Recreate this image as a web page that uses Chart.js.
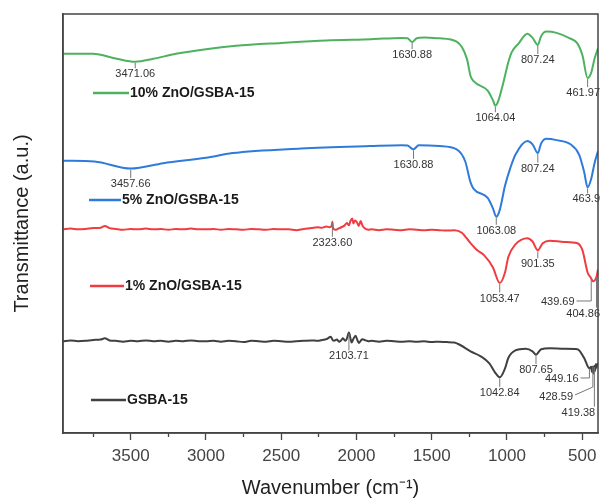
<!DOCTYPE html>
<html>
<head>
<meta charset="utf-8">
<script src="https://cdn.jsdelivr.net/npm/chart.js@4.4.1/dist/chart.umd.min.js"></script>
<style>
  html, body { margin: 0; padding: 0; background: #fff; }
  canvas { display: block; }
</style>
</head>
<body>
<canvas id="ftirChart" width="600" height="501"></canvas>
<script>
// series names (as in the inline legend)
const seriesNames = ["10% ZnO/GSBA-15", "5% ZnO/GSBA-15", "1% ZnO/GSBA-15", "GSBA-15"];

// 10% ZnO/GSBA-15 : wavenumber (cm-1) / transmittance (a.u., stacked)
const wn10 = [3950, 3750, 3600, 3470, 3350, 3200, 3000, 2800, 2500, 2200, 1900, 1700, 1660, 1630, 1600, 1550, 1450, 1334, 1266, 1242, 1220, 1128, 1093, 1077, 1060, 1025, 991, 968, 922, 864, 830, 795, 773, 738, 670, 578, 532, 498, 464, 440, 418, 395];
const t10 = [90.5, 90.5, 89.4, 88.6, 89.3, 90.5, 91.6, 92.4, 93.1, 93.7, 94.0, 94.3, 94.2, 93.3, 94.2, 94.4, 94.2, 93.4, 89.3, 85.2, 83.9, 81.7, 79.4, 78.1, 79.0, 83.5, 88.5, 90.9, 93.0, 95.3, 94.3, 92.6, 94.7, 95.8, 95.5, 94.1, 93.0, 90.1, 84.7, 86.0, 89.3, 91.8];

// 5% ZnO/GSBA-15
const wn5 = [3950, 3741, 3500, 3283, 3000, 2825, 2368, 1907, 1701, 1660, 1621, 1586, 1450, 1334, 1277, 1242, 1220, 1128, 1093, 1071, 1048, 1013, 979, 944, 864, 830, 795, 773, 738, 670, 578, 520, 487, 464, 440, 418, 395];
const t5 = [65.0, 64.8, 63.1, 64.4, 65.7, 66.8, 67.9, 68.5, 68.7, 68.6, 67.7, 68.7, 68.5, 67.7, 64.8, 59.8, 58.2, 56.1, 53.6, 51.6, 53.2, 59.0, 63.1, 66.4, 69.7, 68.9, 66.8, 69.1, 70.2, 69.9, 68.9, 66.4, 62.3, 58.6, 60.7, 64.4, 67.3];

// 1% ZnO/GSBA-15
const wn1 = [3950, 3900, 3850, 3800, 3750, 3700, 3672, 3640, 3600, 3550, 3500, 3450, 3400, 3350, 3300, 3250, 3200, 3150, 3100, 3050, 3000, 2950, 2900, 2850, 2800, 2750, 2700, 2650, 2600, 2550, 2500, 2450, 2400, 2350, 2300, 2260, 2230, 2200, 2180, 2165, 2160, 2155, 2140, 2120, 2100, 2080, 2063, 2050, 2040, 2028, 2020, 2010, 1997, 1985, 1972, 1960, 1950, 1939, 1920, 1900, 1850, 1800, 1750, 1700, 1650, 1600, 1550, 1500, 1450, 1400, 1350, 1300, 1242, 1197, 1151, 1093, 1048, 1013, 991, 944, 864, 830, 795, 762, 715, 620, 532, 498, 464, 440, 429, 405, 395];
const t1 = [48.6, 48.8, 48.6, 48.7, 48.9, 49.0, 49.4, 48.9, 48.7, 48.5, 48.7, 48.6, 48.8, 48.6, 48.7, 48.5, 48.7, 48.6, 48.8, 48.6, 48.6, 48.7, 48.5, 48.7, 48.6, 48.5, 48.7, 48.6, 48.5, 48.7, 48.6, 48.6, 48.4, 48.7, 48.9, 49.1, 49.0, 49.3, 49.1, 49.4, 50.4, 48.9, 48.5, 48.8, 49.1, 49.5, 50.1, 49.6, 50.6, 51.2, 50.0, 50.7, 50.3, 49.4, 50.6, 49.5, 49.0, 48.7, 48.5, 48.6, 48.4, 48.6, 48.5, 48.4, 48.6, 48.5, 48.4, 48.5, 48.4, 48.3, 48.4, 47.8, 45.3, 43.6, 42.4, 39.5, 35.8, 38.3, 42.0, 45.0, 46.5, 45.7, 43.6, 45.3, 45.9, 45.6, 45.3, 43.6, 38.3, 36.9, 36.2, 37.3, 39.1];

// GSBA-15
const wn0 = [3950, 3900, 3850, 3800, 3750, 3700, 3672, 3640, 3600, 3550, 3500, 3450, 3400, 3350, 3300, 3250, 3200, 3150, 3100, 3050, 3000, 2950, 2900, 2850, 2800, 2750, 2700, 2650, 2600, 2550, 2500, 2450, 2400, 2350, 2300, 2260, 2226, 2200, 2190, 2171, 2160, 2149, 2130, 2116, 2100, 2090, 2075, 2065, 2050, 2040, 2032, 2020, 2006, 1995, 1984, 1972, 1960, 1939, 1920, 1900, 1850, 1800, 1750, 1700, 1650, 1600, 1550, 1500, 1450, 1400, 1350, 1311, 1242, 1174, 1117, 1082, 1048, 1013, 991, 944, 876, 830, 807, 773, 715, 620, 532, 487, 452, 440, 435, 429, 425, 419, 415, 410, 405, 400, 395];
const t0 = [21.9, 22.1, 21.9, 22.0, 22.2, 22.3, 22.6, 22.1, 22.0, 21.8, 22.0, 21.9, 22.1, 21.9, 22.0, 21.8, 22.0, 21.9, 22.1, 21.9, 21.9, 22.0, 21.8, 22.0, 21.9, 21.7, 22.0, 21.9, 21.8, 22.0, 21.9, 21.8, 21.9, 22.0, 22.1, 22.0, 22.2, 22.4, 22.6, 23.0, 22.3, 22.0, 22.3, 21.8, 22.2, 22.6, 22.0, 22.4, 24.0, 22.6, 21.6, 22.5, 23.2, 22.3, 21.5, 22.0, 22.4, 22.1, 21.9, 22.0, 21.8, 22.0, 21.9, 21.8, 21.9, 21.8, 21.9, 21.7, 21.8, 21.7, 21.6, 21.0, 19.5, 18.3, 16.6, 14.6, 13.3, 15.4, 17.9, 19.7, 20.1, 19.5, 18.7, 20.0, 20.2, 20.1, 20.0, 17.9, 15.4, 15.8, 14.6, 15.9, 14.2, 16.0, 14.8, 16.4, 15.6, 16.5, 16.2];

// labelled peaks per series
const peaks10 = [3470, 1630, 795, 1077, 464];
const peakText10 = ["3471.06", "1630.88", "807.24", "1064.04", "461.97"];
const peaks5 = [3500, 1621, 795, 1071, 464];
const peakText5 = ["3457.66", "1630.88", "807.24", "1063.08", "463.9"];
const peaks1 = [2160, 795, 1048, 440, 405];
const peakText1 = ["2323.60", "901.35", "1053.47", "439.69", "404.86"];
const peaks0 = [2050, 1048, 807, 452, 429, 419];
const peakText0 = ["2103.71", "1042.84", "807.65", "449.16", "428.59", "419.38"];

// x axis range and ticks (labelled every 500, minor every 250)
const xMin = 395, xMax = 3950;
const xTicks = [3750, 3500, 3250, 3000, 2750, 2500, 2250, 2000, 1750, 1500, 1250, 1000, 750, 500];

const colors = ["#4db25f", "#2f7bdb", "#f03c40", "#404040"];
const font = "'Liberation Sans', Arial, sans-serif";

// where each peak label sits relative to its peak (px)
const peakPlace = [
  [{ dy: 12.5 }, { dy: 13 }, { dy: 15 }, { dy: 12.5 }, { dy: 15 }],
  [{ dy: 15.5 }, { dy: 15.5 }, { dy: 15.5 }, { dy: 14 }, { dy: 12 }],
  [{ dy: 21 }, { dy: 14 }, { dy: 15.5 }, { dx: -33.5, dy: 23.6, type: "elbow" }, { dy: 37 }],
  [{ dy: 24 }, { dy: 15.6 }, { dy: 15.4 }, { dx: -27.7, dy: 10.5, type: "elbow" }, { dx: -36.7, dy: 30.6, type: "slant" }, { dx: -16, dy: 46.7 }]
];
const peakSets = [
  { wn: peaks10, text: peakText10 },
  { wn: peaks5, text: peakText5 },
  { wn: peaks1, text: peakText1 },
  { wn: peaks0, text: peakText0 }
];

// inline legend entries: line from x0 to x1 at y (px inside chart area)
const legendPlace = [
  { x0: 30, x1: 66, y: 79 },
  { x0: 26, x1: 58, y: 186 },
  { x0: 27, x1: 61, y: 272 },
  { x0: 28, x1: 63, y: 386 }
];

const toPoints = (xs, ys) => xs.map((x, i) => ({ x: x, y: ys[i] }));

const peakLabels = {
  id: "peakLabels",
  afterDatasetsDraw(chart) {
    const ctx = chart.ctx;
    ctx.save();
    ctx.font = "11px " + font;
    ctx.textAlign = "center";
    ctx.textBaseline = "middle";
    ctx.strokeStyle = "#777";
    ctx.fillStyle = "#333";
    ctx.lineWidth = 1;
    peakSets.forEach((set, di) => {
      const meta = chart.getDatasetMeta(di);
      const pts = chart.data.datasets[di].data;
      set.wn.forEach((w, i) => {
        let best = 0;
        pts.forEach((p, j) => {
          if (Math.abs(p.x - w) < Math.abs(pts[best].x - w)) best = j;
        });
        const ax = meta.data[best].x;
        const ay = meta.data[best].y;
        const o = peakPlace[di][i];
        const tw = ctx.measureText(set.text[i]).width;
        let lx = Math.min(ax + (o.dx || 0), chart.width - tw / 2);
        const ly = ay + o.dy;
        ctx.beginPath();
        if (o.type === "elbow") {
          ctx.moveTo(ax, ay);
          ctx.lineTo(ax, ly - 1);
          ctx.lineTo(lx + tw / 2 + 2, ly - 1);
        } else if (o.type === "slant") {
          ctx.moveTo(ax, ay);
          ctx.lineTo(ax, ly - 10);
          ctx.lineTo(lx + tw / 2 + 2, ly - 2);
        } else {
          ctx.moveTo(ax, ay + 1);
          ctx.lineTo(ax, ly - 6);
        }
        ctx.stroke();
        ctx.fillText(set.text[i], lx, ly);
      });
    });
    ctx.restore();
  }
};

const inlineLegend = {
  id: "inlineLegend",
  afterDraw(chart) {
    const ctx = chart.ctx;
    const a = chart.chartArea;
    ctx.save();
    ctx.font = "bold 14px " + font;
    ctx.textBaseline = "middle";
    ctx.fillStyle = "#1a1a1a";
    legendPlace.forEach((l, i) => {
      ctx.strokeStyle = colors[i];
      ctx.lineWidth = 2.5;
      ctx.beginPath();
      ctx.moveTo(a.left + l.x0, a.top + l.y);
      ctx.lineTo(a.left + l.x1, a.top + l.y);
      ctx.stroke();
      ctx.fillText(seriesNames[i], a.left + l.x1 + 1, a.top + l.y);
    });
    // frame top and right
    ctx.strokeStyle = "#444";
    ctx.lineWidth = 1.5;
    ctx.strokeRect(a.left, a.top, a.right - a.left, a.bottom - a.top);
    ctx.restore();
  }
};

new Chart(document.getElementById("ftirChart"), {
  type: "line",
  data: {
    datasets: [
      { label: seriesNames[0], data: toPoints(wn10, t10), borderColor: colors[0] },
      { label: seriesNames[1], data: toPoints(wn5, t5), borderColor: colors[1] },
      { label: seriesNames[2], data: toPoints(wn1, t1), borderColor: colors[2] },
      { label: seriesNames[3], data: toPoints(wn0, t0), borderColor: colors[3] }
    ]
  },
  options: {
    responsive: false,
    animation: false,
    devicePixelRatio: 1,
    layout: { padding: { top: 14, right: 2, left: 0, bottom: 0 } },
    elements: {
      point: { radius: 0 },
      line: { borderWidth: 2, cubicInterpolationMode: "monotone" }
    },
    plugins: {
      legend: { display: false },
      tooltip: { enabled: false }
    },
    scales: {
      x: {
        type: "linear",
        reverse: true,
        min: xMin,
        max: xMax,
        afterBuildTicks: (scale) => { scale.ticks = xTicks.map((v) => ({ value: v })); },
        afterFit: (scale) => {
          scale.height = 68;
          scale.paddingLeft = 0;
          scale.paddingRight = 0;
        },
        border: { display: true, color: "#444", width: 1.5 },
        grid: {
          drawOnChartArea: false,
          drawTicks: true,
          tickLength: 7,
          tickColor: "#444",
          tickWidth: 1.3,
          tickBorderDash: (c) => (c.tick && c.tick.value % 500 === 0 ? [] : [3.5, 20])
        },
        ticks: {
          autoSkip: false,
          maxRotation: 0,
          padding: 6,
          color: "#444",
          font: { family: font, size: 17 },
          callback: (v) => (v % 500 === 0 ? String(v) : "")
        },
        title: {
          display: true,
          text: "Wavenumber (cm\u207B\u00B9)",
          color: "#222",
          font: { family: font, size: 20 },
          padding: { top: 0, bottom: 1 }
        }
      },
      y: {
        min: 0,
        max: 100,
        afterFit: (scale) => { scale.width = 63; },
        border: { display: true, color: "#444", width: 1.5 },
        grid: { display: false },
        ticks: { display: false },
        title: {
          display: true,
          text: "Transmittance (a.u.)",
          color: "#222",
          font: { family: font, size: 20 },
          padding: { top: 10, bottom: 0 }
        }
      }
    }
  },
  plugins: [peakLabels, inlineLegend]
});
</script>
</body>
</html>
